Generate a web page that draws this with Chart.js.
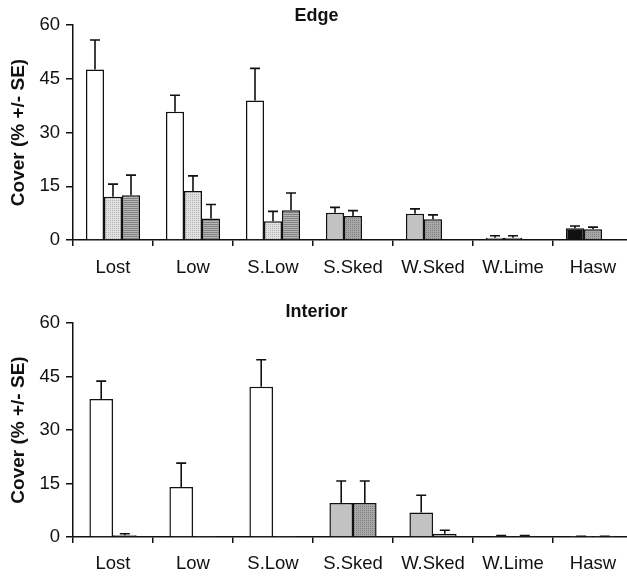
<!DOCTYPE html>
<html>
<head>
<meta charset="utf-8">
<script src="https://cdn.jsdelivr.net/npm/chart.js@4/dist/chart.umd.min.js"></script>
<style>
  html, body { margin: 0; padding: 0; background: #fff; overflow: hidden; width: 627px; height: 577px; }
  canvas { position: absolute; left: 0; }
  #edge { top: 0; }
  #interior { top: 290px; }
</style>
</head>
<body>
<canvas id="edge" width="640" height="290"></canvas>
<canvas id="interior" width="640" height="287"></canvas>
<script>
// ---------- data ----------
const categories = ['Lost', 'Low', 'S.Low', 'S.Sked', 'W.Sked', 'W.Lime', 'Hasw'];
const yTickValues = [0, 15, 30, 45, 60];

const edgeSeries1    = [47.6, 35.8, 38.9, 7.6, 7.3, 0.65, 3.3];
const edgeSeries1Err = [8.2, 4.6, 9.0, 1.5, 1.4, 0.55, 0.6];
const edgeSeries2    = [12.1, 13.7, 5.2, 6.7, 5.8, 0.6, 3.0];
const edgeSeries2Err = [3.5, 4.2, 2.8, 1.5, 1.2, 0.6, 0.6];
const edgeSeries3    = [12.5, 6.0, 8.3, null, null, null, null];
const edgeSeries3Err = [5.6, 3.9, 4.8, null, null, null, null];

const interiorSeries1    = [38.7, 14.0, 42.1, 9.5, 6.9, 0.3, 0.05];
const interiorSeries1Err = [5.0, 6.7, 7.6, 6.2, 4.8, 0.1, 0.15];
const interiorSeries2    = [0.5, 0.1, 0.1, 9.5, 0.9, 0.3, 0.05];
const interiorSeries2Err = [0.4, 0, 0, 6.2, 1.0, 0.1, 0.15];

// ---------- styles ----------
function makePattern(base, dot, kind) {
  const c = document.createElement('canvas');
  c.width = 2; c.height = 2;
  const g = c.getContext('2d');
  g.fillStyle = base; g.fillRect(0, 0, 2, 2);
  g.fillStyle = dot;
  if (kind === 'dots') { g.fillRect(0, 0, 1, 1); }
  else { g.fillRect(0, 0, 2, 1); }
  return g.createPattern(c, 'repeat');
}
const WHITE = '#ffffff';
const LIGHT = '#c2c2c2';
const BLACK = '#111111';
const DOT_LIGHT = makePattern('#e2e2e2', '#b0b0b0', 'dots');
const STRIPED = makePattern('#b8b8b8', '#808080', 'lines');
const DOT_DARK = makePattern('#a8a8a8', '#7e7e7e', 'dots');

const FONT = "'Liberation Sans', Arial, Helvetica, sans-serif";

const errorBars = {
  id: 'errorBars',
  afterDatasetsDraw(chart) {
    const ctx = chart.ctx;
    const yScale = chart.scales.y;
    ctx.save();
    ctx.strokeStyle = '#111';
    ctx.lineWidth = 1.6;
    chart.data.datasets.forEach((ds, i) => {
      const meta = chart.getDatasetMeta(i);
      meta.data.forEach((el, j) => {
        const v = ds.data[j];
        const e = ds.errors[j];
        if (v == null || e == null || e <= 0) return;
        const x = el.x;
        const y0 = el.y;
        const y1 = yScale.getPixelForValue(v + e);
        ctx.beginPath();
        ctx.moveTo(x, y0); ctx.lineTo(x, y1);
        ctx.moveTo(x - 5, y1); ctx.lineTo(x + 5, y1);
        ctx.stroke();
      });
    });
    ctx.restore();
  }
};

function buildOptions(title, titlePad, xHeight, catPct, xPad) {
  return {
    responsive: false,
    animation: false,
    devicePixelRatio: 1,
    layout: { padding: { left: 0, right: 7, top: 0, bottom: 0 } },
    datasets: { bar: { categoryPercentage: catPct, barPercentage: 1, borderColor: '#111', borderWidth: 1.5 } },
    plugins: {
      legend: { display: false },
      tooltip: { enabled: false },
      title: {
        display: true, text: title, color: '#111',
        font: { family: FONT, size: 18, weight: 'bold', lineHeight: 1 },
        padding: titlePad
      }
    },
    scales: {
      x: {
        type: 'category',
        afterFit: s => { s.height = xHeight; },
        grid: { display: true, drawOnChartArea: false, drawTicks: true, tickLength: 6, color: '#111', lineWidth: 1.5 },
        border: { display: true, color: '#111', width: 1.5 },
        ticks: { color: '#111', font: { family: FONT, size: 18.5 }, padding: xPad, maxRotation: 0, autoSkip: false }
      },
      y: {
        min: 0, max: 60,
        afterFit: s => { s.width = 73; },
        afterBuildTicks: s => { s.ticks = yTickValues.map(v => ({ value: v })); },
        grid: { display: true, drawOnChartArea: false, drawTicks: true, tickLength: 7, color: '#111', lineWidth: 1.5 },
        border: { display: true, color: '#111', width: 1.5 },
        ticks: { color: '#111', font: { family: FONT, size: 18.5 }, padding: 6 },
        title: {
          display: true, text: 'Cover (% +/- SE)', color: '#111',
          font: { family: FONT, size: 19, weight: 'bold' },
          padding: { top: 7, bottom: 0 }
        }
      }
    }
  };
}

new Chart(document.getElementById('edge'), {
  type: 'bar',
  data: {
    labels: categories,
    datasets: [
      { label: 'Series 1', data: edgeSeries1, errors: edgeSeries1Err,
        backgroundColor: [WHITE, WHITE, WHITE, LIGHT, LIGHT, LIGHT, BLACK] },
      { label: 'Series 2', data: edgeSeries2, errors: edgeSeries2Err,
        backgroundColor: [DOT_LIGHT, DOT_LIGHT, DOT_LIGHT, DOT_DARK, DOT_DARK, DOT_DARK, DOT_DARK] },
      { label: 'Series 3', data: edgeSeries3, errors: edgeSeries3Err,
        backgroundColor: [STRIPED, STRIPED, STRIPED, STRIPED, STRIPED, STRIPED, STRIPED] }
    ]
  },
  options: buildOptions('Edge', { top: 7, bottom: 0 }, 50, 0.675, 11),
  plugins: [errorBars]
});

new Chart(document.getElementById('interior'), {
  type: 'bar',
  data: {
    labels: categories,
    datasets: [
      { label: 'Series 1', data: interiorSeries1, errors: interiorSeries1Err,
        backgroundColor: [WHITE, WHITE, WHITE, LIGHT, LIGHT, LIGHT, LIGHT] },
      { label: 'Series 2', data: interiorSeries2, errors: interiorSeries2Err,
        backgroundColor: [DOT_DARK, DOT_DARK, DOT_DARK, DOT_DARK, DOT_DARK, DOT_DARK, DOT_DARK] }
    ]
  },
  options: buildOptions('Interior', { top: 13, bottom: 2 }, 40, 0.59, 10),
  plugins: [errorBars]
});
</script>
</body>
</html>
